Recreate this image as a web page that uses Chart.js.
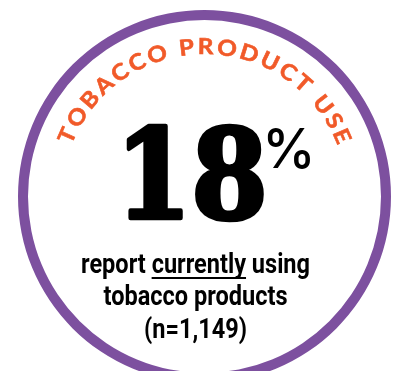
<!DOCTYPE html>
<html>
<head>
<meta charset="utf-8">
<script src="https://cdn.jsdelivr.net/npm/chart.js@4.4.1/dist/chart.umd.min.js"></script>
<style>
    html, body { margin: 0; padding: 0; background: #fff; overflow: hidden; }
    #wrap { width: 401px; height: 393px; }
</style>
</head>
<body>
<div id="wrap"><canvas id="statChart" width="401" height="393"></canvas></div>
<script>
// values
const ringLabels = ['Respondents'];
const ringValues = [100];
const statPercent = [18];
const titleText = 'TOBACCO PRODUCT USE';
const captionLines = ['report currently using', 'tobacco products', '(n=1,149)'];
const underlineWord = 'currently';

const purple = '#7d509f';
const orange = '#f15a29';

// draws text so its ink fills a given box (relative to the ring centre)
function fillTextInBox(ctx, text, font, cx, cy, box, thicken) {
    ctx.font = font;
    const m = ctx.measureText(text);
    const w = m.actualBoundingBoxLeft + m.actualBoundingBoxRight;
    const h = m.actualBoundingBoxAscent + m.actualBoundingBoxDescent;
    ctx.save();
    ctx.translate(cx + box.x, cy + box.y);
    ctx.scale(box.w / w, box.h / h);
    ctx.textAlign = 'left';
    ctx.textBaseline = 'alphabetic';
    ctx.fillText(text, m.actualBoundingBoxLeft, m.actualBoundingBoxAscent);
    if (thicken) {
        ctx.lineWidth = thicken;
        ctx.lineJoin = 'round';
        ctx.strokeStyle = ctx.fillStyle;
        ctx.strokeText(text, m.actualBoundingBoxLeft, m.actualBoundingBoxAscent);
    }
    ctx.restore();
}

function drawArcTitle(ctx, text, cx, cy, radius, fromDeg, toDeg) {
    ctx.save();
    ctx.font = 'bold 22px Lato';
    ctx.fillStyle = orange;
    ctx.strokeStyle = orange;
    ctx.lineWidth = 0.6;
    ctx.textAlign = 'center';
    ctx.textBaseline = 'alphabetic';
    const stretch = 1.1;
    const chars = text.split('');
    const widths = chars.map(c => ctx.measureText(c).width * stretch);
    const span = (toDeg - fromDeg) * Math.PI / 180 * radius;
    let inner = 0;
    widths.forEach((w, i) => {
        if (i === 0 || i === widths.length - 1) inner += w / 2;
        else inner += w;
    });
    const gap = (span - inner) / (chars.length - 1);
    let pos = 0;
    chars.forEach((c, i) => {
        if (i > 0) pos += widths[i - 1] / 2 + gap + widths[i] / 2;
        const ang = fromDeg * Math.PI / 180 + pos / radius;
        ctx.save();
        ctx.translate(cx + Math.sin(ang) * radius, cy - Math.cos(ang) * radius);
        ctx.rotate(ang);
        ctx.scale(stretch, 1);
        ctx.fillText(c, 0, 0);
        ctx.strokeText(c, 0, 0);
        ctx.restore();
    });
    ctx.restore();
}

const statPlugin = {
    id: 'statText',
    afterDraw(chart) {
        const ctx = chart.ctx;
        const arc = chart.getDatasetMeta(0).data[0];
        const cx = arc.x;
        const cy = arc.y;

        drawArcTitle(ctx, titleText, cx, cy, arc.outerRadius - 44, -66, 66.3);

        ctx.fillStyle = '#000';
        fillTextInBox(ctx, String(statPercent[0]), 'bold 130px "DejaVu Serif"', cx, cy,
            { x: -76.5, y: -69.5, w: 134, h: 93 }, 5);
        fillTextInBox(ctx, '%', '500 60px Inter', cx, cy,
            { x: 63, y: -69, w: 43, h: 41 });

        // caption
        ctx.save();
        ctx.font = 'bold 28px Roboto';
        ctx.textBaseline = 'alphabetic';
        ctx.textAlign = 'left';
        const sx = 229 / ctx.measureText(captionLines[0]).width;
        const textCx = cx - 9;
        const baselines = [76.5, 108.5, 141];
        captionLines.forEach((line, i) => {
            const w = ctx.measureText(line).width * sx;
            const left = textCx - w / 2;
            ctx.save();
            ctx.translate(left, cy + baselines[i]);
            ctx.scale(sx, 1);
            ctx.fillText(line, 0, 0);
            ctx.restore();
            const at = line.indexOf(underlineWord);
            if (at >= 0) {
                const pre = ctx.measureText(line.slice(0, at)).width * sx;
                const ww = ctx.measureText(underlineWord).width * sx;
                ctx.fillRect(left + pre, cy + baselines[i] + 4, ww, 2);
            }
        });
        ctx.restore();
    }
};

const chart = new Chart(document.getElementById('statChart'), {
    type: 'doughnut',
    data: {
        labels: ringLabels,
        datasets: [{
            data: ringValues,
            backgroundColor: [purple],
            borderWidth: 0,
            hoverOffset: 0
        }]
    },
    options: {
        responsive: false,
        animation: false,
        events: [],
        cutout: 176.5,
        layout: { padding: { left: 18, right: 10, top: 10, bottom: 10 } },
        plugins: {
            legend: { display: false },
            tooltip: { enabled: false }
        }
    },
    plugins: [statPlugin]
});
</script>
</body>
</html>
